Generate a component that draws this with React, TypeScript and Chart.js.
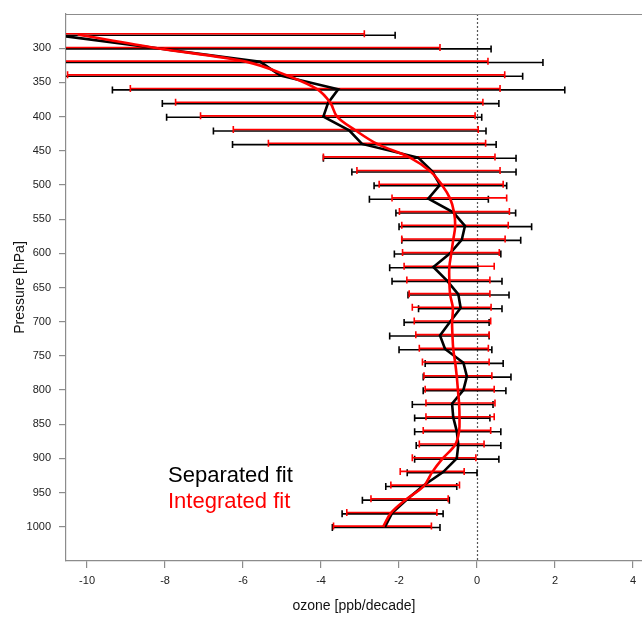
import React, { useEffect, useRef } from "react";
import { Chart, registerables } from "chart.js";

Chart.register(...registerables);

// Pressure levels [hPa]
const pressure = [
  280, 300, 320, 340, 360, 380, 400, 420, 440, 460, 480, 500, 520, 540, 560, 580, 600, 620, 640,
  660, 680, 700, 720, 740, 760, 780, 800, 820, 840, 860, 880, 900, 920, 940, 960, 980, 1000,
];

// Separated fit (black)
const sepCenter = [
  -10.9, -8.2, -5.56, -5.04, -3.56, -3.82, -3.94, -3.28, -2.95, -1.51, -1.15, -0.95, -1.25, -0.61,
  -0.31, -0.39, -0.69, -1.12, -0.77, -0.48, -0.42, -0.69, -0.95, -0.82, -0.35, -0.26, -0.35, -0.64,
  -0.61, -0.52, -0.48, -0.52, -0.87, -1.38, -1.8, -2.18, -2.36,
];
const sepLower = [
  -11.5, -11.5, -11.5, -11.5, -9.35, -8.07, -7.96, -6.76, -6.27, -3.94, -3.21, -2.64, -2.76, -2.08,
  -2.0, -1.93, -2.12, -2.24, -2.18, -1.77, -1.5, -1.87, -2.24, -2.0, -1.33, -1.38, -1.38, -1.66,
  -1.6, -1.6, -1.56, -1.6, -1.79, -2.34, -2.94, -3.46, -3.71,
];
const sepUpper = [
  -2.1, 0.36, 1.69, 1.17, 2.25, 0.56, 0.12, 0.23, 0.49, 1.0, 1.0, 0.76, 0.29, 0.99, 1.4, 1.12, 0.61,
  0.02, 0.64, 0.82, 0.64, 0.31, 0.31, 0.38, 0.67, 0.87, 0.74, 0.41, 0.33, 0.61, 0.61, 0.56, 0.0,
  -0.52, -0.71, -0.87, -0.95,
];

// Integrated fit (red)
const intCenter = [
  -10.24, -8.2, -5.9, -4.87, -4.1, -3.76, -3.59, -3.12, -2.56, -1.72, -1.2, -0.9, -0.69, -0.59,
  -0.56, -0.61, -0.66, -0.71, -0.71, -0.69, -0.62, -0.64, -0.63, -0.61, -0.56, -0.52, -0.49, -0.46,
  -0.45, -0.46, -0.56, -0.88, -1.15, -1.36, -1.82, -2.21, -2.41,
];
const intLower = [
  -11.5, -11.5, -11.5, -10.5, -8.89, -7.73, -7.09, -6.25, -5.35, -3.94, -3.08, -2.51, -2.18, -1.99,
  -1.93, -1.93, -1.91, -1.87, -1.8, -1.74, -1.66, -1.61, -1.57, -1.48, -1.4, -1.36, -1.33, -1.31,
  -1.31, -1.38, -1.48, -1.66, -1.97, -2.21, -2.72, -3.34, -3.68,
];
const intUpper = [
  -2.89, -0.95, 0.28, 0.71, 0.59, 0.15, -0.05, 0.03, 0.22, 0.46, 0.59, 0.67, 0.76, 0.83, 0.8, 0.72,
  0.57, 0.44, 0.33, 0.33, 0.36, 0.35, 0.31, 0.29, 0.31, 0.38, 0.44, 0.46, 0.44, 0.35, 0.18, -0.03,
  -0.33, -0.45, -0.74, -1.03, -1.17,
];

const xTicks = [-10, -8, -6, -4, -2, 0, 2, 4];
const yTicks = [300, 350, 400, 450, 500, 550, 600, 650, 700, 750, 800, 850, 900, 950, 1000];
const seriesNames = ["Separated fit", "Integrated fit"];
const xTitle = "ozone [ppb/decade]";
const yTitle = "Pressure [hPa]";

const FONT = "'Liberation Sans', Arial, Helvetica, sans-serif";
const BLACK = "#000000";
const RED = "#ff0000";
const AXIS = "#8c8c8c";

const errorBarPlugin = {
  id: "errorBarsAndDecor",
  beforeDatasetsDraw(chart: any) {
    const { ctx, chartArea: a, scales } = chart;
    const xs = scales.x;
    const ys = scales.y;
    ctx.save();
    ctx.beginPath();
    ctx.rect(a.left, a.top, a.right - a.left, a.bottom - a.top);
    ctx.clip();

    // zero reference line (dotted)
    const x0 = Math.round(xs.getPixelForValue(0)) + 0.5;
    ctx.strokeStyle = "#555555";
    ctx.lineWidth = 1.2;
    ctx.setLineDash([2, 2]);
    ctx.beginPath();
    ctx.moveTo(x0, a.top);
    ctx.lineTo(x0, a.bottom);
    ctx.stroke();
    ctx.setLineDash([]);

    const drawSet = (lo: number[], hi: number[], color: string, dy: number) => {
      ctx.strokeStyle = color;
      ctx.lineWidth = 1.6;
      pressure.forEach((p, i) => {
        const yy = ys.getPixelForValue(p) + dy;
        const xl = xs.getPixelForValue(lo[i]);
        const xh = xs.getPixelForValue(hi[i]);
        ctx.beginPath();
        ctx.moveTo(xl, yy);
        ctx.lineTo(xh, yy);
        ctx.moveTo(xl, yy - 3.5);
        ctx.lineTo(xl, yy + 3.5);
        ctx.moveTo(xh, yy - 3.5);
        ctx.lineTo(xh, yy + 3.5);
        ctx.stroke();
      });
    };
    drawSet(sepLower, sepUpper, BLACK, 0.7);
    drawSet(intLower, intUpper, RED, -0.7);
    ctx.restore();
  },
  afterDraw(chart: any) {
    const { ctx, chartArea: a } = chart;
    ctx.save();
    // top frame line
    ctx.strokeStyle = AXIS;
    ctx.lineWidth = 1.2;
    ctx.beginPath();
    ctx.moveTo(a.left, a.top + 0.5);
    ctx.lineTo(a.right, a.top + 0.5);
    ctx.stroke();
    // legend texts
    ctx.font = `22px ${FONT}`;
    ctx.textAlign = "left";
    ctx.textBaseline = "alphabetic";
    ctx.fillStyle = BLACK;
    ctx.fillText(seriesNames[0], a.left + 102, a.top + 468);
    ctx.fillStyle = RED;
    ctx.fillText(seriesNames[1], a.left + 102, a.top + 494);
    ctx.restore();
  },
};

export default function App() {
  const ref = useRef<HTMLCanvasElement | null>(null);

  useEffect(() => {
    if (!ref.current) return;
    const chart = new Chart(ref.current, {
      type: "scatter",
      data: {
        datasets: [
          {
            label: seriesNames[1],
            data: pressure.map((p, i) => ({ x: intCenter[i], y: p })),
            showLine: true,
            borderColor: RED,
            backgroundColor: RED,
            borderWidth: 2.6,
            pointRadius: 0,
            tension: 0.35,
          },
          {
            label: seriesNames[0],
            data: pressure.map((p, i) => ({ x: sepCenter[i], y: p })),
            showLine: true,
            borderColor: BLACK,
            backgroundColor: BLACK,
            borderWidth: 2.6,
            pointRadius: 0,
            tension: 0,
          },
        ],
      },
      options: {
        responsive: false,
        animation: false,
        layout: { padding: { top: 14, right: 0, left: 0, bottom: 0 } },
        plugins: { legend: { display: false }, tooltip: { enabled: false } },
        scales: {
          x: {
            type: "linear",
            min: -10.54,
            max: 4.23,
            afterBuildTicks: (s: any) => {
              s.ticks = xTicks.map((v) => ({ value: v }));
            },
            afterFit: (s: any) => {
              s.height = 57;
              s.paddingLeft = 0;
              s.paddingRight = 0;
              s.paddingTop = 0;
              s.paddingBottom = 0;
            },
            grid: { drawOnChartArea: false, drawTicks: true, tickLength: 7, color: AXIS, lineWidth: 1.2 },
            border: { display: true, color: AXIS, width: 1.2 },
            ticks: {
              color: "#222222",
              padding: 6,
              maxRotation: 0,
              autoSkip: false,
              font: { family: FONT, size: 11 },
              callback: (v: any) => String(v),
            },
            title: {
              display: true,
              text: xTitle,
              color: "#111111",
              font: { family: FONT, size: 14 },
              padding: { top: 0, bottom: 3 },
            },
          },
          y: {
            type: "linear",
            reverse: true,
            min: 250,
            max: 1050,
            afterBuildTicks: (s: any) => {
              s.ticks = yTicks.map((v) => ({ value: v }));
            },
            afterFit: (s: any) => {
              s.width = 66;
              s.paddingLeft = 0;
              s.paddingRight = 0;
              s.paddingTop = 0;
              s.paddingBottom = 0;
            },
            grid: { drawOnChartArea: false, drawTicks: true, tickLength: 7, color: AXIS, lineWidth: 1.2 },
            border: { display: true, color: AXIS, width: 1.2 },
            ticks: {
              color: "#222222",
              padding: 8,
              autoSkip: false,
              font: { family: FONT, size: 11 },
              callback: (v: any) => String(v),
            },
            title: {
              display: true,
              text: yTitle,
              color: "#111111",
              font: { family: FONT, size: 14 },
              padding: { top: 12, bottom: 0 },
            },
          },
        },
      },
      plugins: [errorBarPlugin],
    } as any);
    return () => chart.destroy();
  }, []);

  return (
    <>
      <style>{"html,body{margin:0;padding:0;overflow:hidden;}"}</style>
      <canvas ref={ref} width={642} height={618} style={{ display: "block" }} />
    </>
  );
}
